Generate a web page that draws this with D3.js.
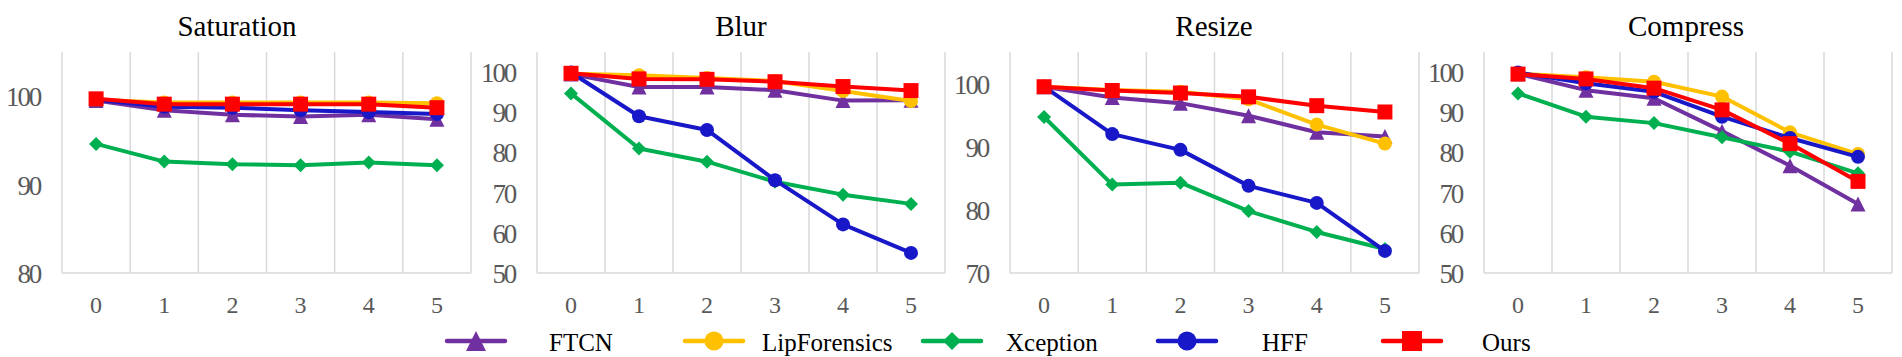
<!DOCTYPE html>
<html>
<head>
<meta charset="utf-8">
<script src="https://cdn.jsdelivr.net/npm/d3@7"></script>
<style>
html,body{margin:0;padding:0;background:#fff;}
svg{display:block;}
</style>
</head>
<body>
<svg id="chart" width="1902" height="357"></svg>
<script>
// ---------- DATA ----------
const levels = ["0", "1", "2", "3", "4", "5"];
const seriesNames = ["FTCN", "LipForensics", "Xception", "HFF", "Ours"];
const panelTitles = ["Saturation", "Blur", "Resize", "Compress"];
const yDomains = [[80, 105], [50, 105], [70, 105], [50, 105]];
const yTickValues = [[80, 90, 100], [50, 60, 70, 80, 90, 100], [70, 80, 90, 100], [50, 60, 70, 80, 90, 100]];

// Saturation
const satFTCN = [99.5, 98.4, 97.9, 97.7, 97.9, 97.4];
const satLip  = [99.6, 99.3, 99.3, 99.3, 99.3, 99.2];
const satXcp  = [94.6, 92.6, 92.3, 92.2, 92.5, 92.2];
const satHFF  = [99.6, 98.8, 98.7, 98.4, 98.2, 98.0];
const satOurs = [99.7, 99.1, 99.1, 99.1, 99.1, 98.7];
// Blur
const blurFTCN = [99.5, 96.3, 96.3, 95.5, 92.9, 93.0];
const blurLip  = [99.6, 99.2, 98.5, 97.8, 95.3, 92.8];
const blurXcp  = [94.7, 81.0, 77.7, 72.7, 69.5, 67.2];
const blurHFF  = [99.9, 89.0, 85.6, 73.1, 62.1, 55.0];
const blurOurs = [99.7, 98.3, 98.2, 97.6, 96.4, 95.4];
// Resize
const resFTCN = [99.5, 97.8, 96.9, 94.9, 92.3, 91.6];
const resLip  = [99.5, 99.0, 98.7, 97.5, 93.5, 90.5];
const resXcp  = [94.7, 84.0, 84.3, 79.8, 76.5, 73.8];
const resHFF  = [99.5, 92.0, 89.5, 83.8, 81.1, 73.5];
const resOurs = [99.5, 98.9, 98.5, 97.9, 96.5, 95.5];
// Compress
const cmpFTCN = [99.6, 95.5, 93.5, 85.3, 76.7, 67.2];
const cmpLip  = [99.6, 98.7, 97.6, 93.9, 85.0, 79.6];
const cmpXcp  = [94.7, 88.9, 87.3, 83.8, 80.2, 74.8];
const cmpHFF  = [99.9, 97.2, 95.1, 88.9, 83.6, 78.9];
const cmpOurs = [99.5, 98.3, 96.0, 90.6, 82.2, 72.8];

const panelData = [
  [satFTCN, satLip, satXcp, satHFF, satOurs],
  [blurFTCN, blurLip, blurXcp, blurHFF, blurOurs],
  [resFTCN, resLip, resXcp, resHFF, resOurs],
  [cmpFTCN, cmpLip, cmpXcp, cmpHFF, cmpOurs]
];

// ---------- STYLE / LAYOUT ----------
const colors = ["#7030A0", "#FFC000", "#00B050", "#1818C8", "#FF0000"];
const shapes = ["triangle", "circle", "diamond", "circle", "square"];
const panelLeft  = [62, 537, 1010, 1484];
const panelRight = [471, 945, 1419, 1892];
const titleX = [237, 741, 1214, 1686];
const plotTop = 52, plotBottom = 273;
const legendLineX = [447, 685, 923, 1158, 1383];
const legendTextX = [549, 762, 1006, 1262, 1482];
const legendY = 341;
const serif = "Liberation Serif";

const svg = d3.select("#chart");

function markerPath(shape, s) {
  const h = s / 2;
  if (shape === "triangle") return `M0,${-h}L${h},${h}L${-h},${h}Z`;
  if (shape === "diamond") return `M0,${-h}L${h},0L0,${h}L${-h},0Z`;
  if (shape === "square") return `M${-h},${-h}H${h}V${h}H${-h}Z`;
  return d3.symbol(d3.symbolCircle, Math.PI * h * h)();
}

panelTitles.forEach((title, p) => {
  const x = d3.scaleBand().domain(levels).range([panelLeft[p], panelRight[p]]).paddingInner(0).paddingOuter(0);
  const y = d3.scaleLinear().domain(yDomains[p]).range([plotBottom, plotTop]);
  const g = svg.append("g");

  const bounds = levels.map(l => x(l)).concat([x(levels[levels.length - 1]) + x.bandwidth()]);
  g.selectAll("line.grid").data(bounds).join("line")
    .attr("x1", d => d).attr("x2", d => d)
    .attr("y1", plotTop).attr("y2", plotBottom)
    .attr("stroke", "#d9d9d9").attr("stroke-width", 1.5);
  g.append("line").attr("x1", panelLeft[p]).attr("x2", panelRight[p])
    .attr("y1", plotBottom).attr("y2", plotBottom)
    .attr("stroke", "#d9d9d9").attr("stroke-width", 1.5);

  const xAxis = d3.axisBottom(x).tickSize(0).tickPadding(0);
  const xg = g.append("g").attr("transform", `translate(0,${plotBottom})`).call(xAxis);
  xg.select(".domain").remove();
  xg.attr("font-family", serif).attr("font-size", 24);
  xg.selectAll("text").attr("y", 40).attr("dy", 0).attr("fill", "#595959");

  const yAxis = d3.axisLeft(y).tickValues(yTickValues[p]).tickSize(0).tickPadding(22).tickFormat(d3.format("d"));
  const yg = g.append("g").attr("transform", `translate(${panelLeft[p]},0)`).call(yAxis);
  yg.select(".domain").remove();
  yg.attr("font-family", serif).attr("font-size", 27);
  yg.selectAll("text").attr("dy", "0.35em").attr("fill", "#595959")
    .attr("letter-spacing", "-2.2");

  svg.append("text").attr("x", titleX[p]).attr("y", 36).attr("text-anchor", "middle")
    .attr("font-family", serif).attr("font-size", 29).attr("fill", "#000").text(title);

  const line = d3.line().x((d, i) => x(levels[i]) + x.bandwidth() / 2).y(d => y(d));
  panelData[p].forEach((vals, s) => {
    const sg = g.append("g");
    sg.append("path").attr("d", line(vals)).attr("fill", "none")
      .attr("stroke", colors[s]).attr("stroke-width", 4).attr("stroke-linejoin", "round");
    const size = shapes[s] === "diamond" ? 14 : (shapes[s] === "circle" ? 14 : 15);
    sg.selectAll("path.mk").data(vals).join("path").attr("class", "mk")
      .attr("d", markerPath(shapes[s], size))
      .attr("transform", (d, i) => `translate(${x(levels[i]) + x.bandwidth() / 2},${y(d)})`)
      .attr("fill", colors[s]);
  });
});

seriesNames.forEach((name, s) => {
  const lg = svg.append("g");
  const x0 = legendLineX[s], x1 = x0 + 58;
  lg.append("line").attr("x1", x0).attr("x2", x1).attr("y1", legendY).attr("y2", legendY)
    .attr("stroke", colors[s]).attr("stroke-width", 4.5).attr("stroke-linecap", "round");
  const size = shapes[s] === "diamond" ? 18 : (shapes[s] === "circle" ? 19 : 20);
  lg.append("path").attr("d", markerPath(shapes[s], size))
    .attr("transform", `translate(${(x0 + x1) / 2},${legendY})`).attr("fill", colors[s]);
  lg.append("text").attr("x", legendTextX[s]).attr("y", legendY + 10)
    .attr("font-family", serif).attr("font-size", 25).attr("fill", "#000").text(name);
});
</script>
</body>
</html>
